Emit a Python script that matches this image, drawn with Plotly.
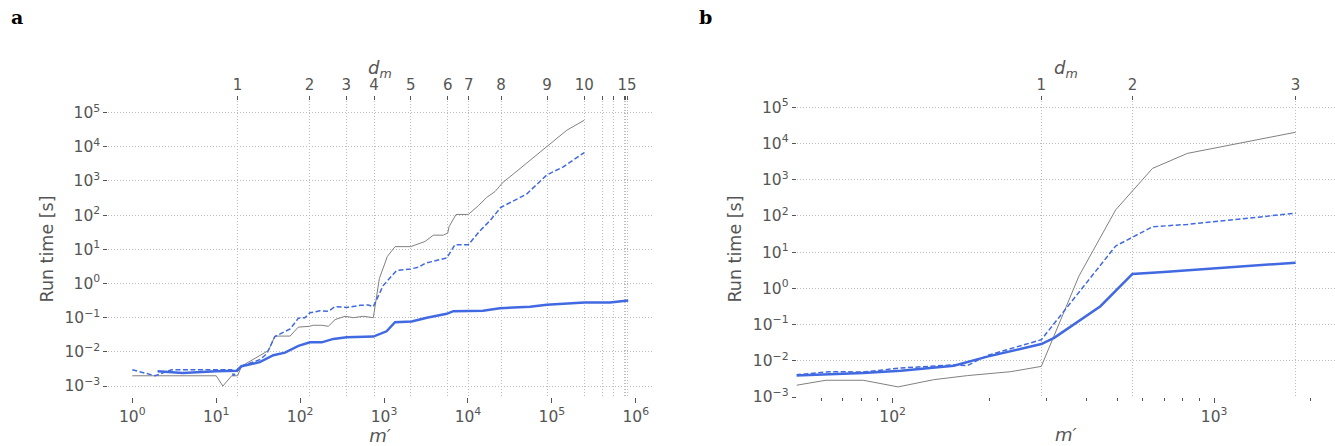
import numpy as np
import plotly.graph_objects as go

# ---------------- Panel a data ----------------
a_gray_x = [1, 10, 12, 15.3, 18, 20, 42, 50, 76, 95, 129, 144, 181, 217, 261, 343, 430, 567, 745,
            880, 1096, 1352, 2080, 2570, 3083, 3873, 5093, 5741, 5957, 7211, 10116, 13300, 16750,
            21040, 26000, 34670, 87100, 151000, 243800]
a_gray_y = [0.002, 0.002, 0.001, 0.002, 0.002, 0.0038, 0.011, 0.029, 0.029, 0.053, 0.056, 0.06,
            0.06, 0.056, 0.088, 0.11, 0.1, 0.11, 0.1, 1.4, 6.2, 12, 12, 14.4, 17, 26, 26, 30, 46,
            105, 105, 189, 331, 490, 900, 1590, 10000, 30600, 60000]

a_dash_x = [1, 1.87, 2.95, 15.3, 16, 20, 33, 40, 50, 76, 95.5, 114, 131, 173, 217, 261, 359, 518,
            650, 745, 977, 1413, 2080, 2570, 3083, 5585, 7015, 10116, 13930, 18320, 24600, 50100,
            87100, 137000, 243800]
a_dash_y = [0.003, 0.002, 0.003, 0.003, 0.002, 0.0038, 0.0059, 0.0088, 0.028, 0.047, 0.097, 0.1,
            0.139, 0.16, 0.155, 0.21, 0.2, 0.23, 0.235, 0.21, 0.87, 2.4, 2.67, 3.0, 3.9, 5.6, 13.7,
            13.7, 35, 69, 168, 414, 1500, 2600, 6800]

a_solid_x = [2, 4, 10, 17.5, 20, 33, 48, 66, 95.5, 131, 181, 249, 359, 745, 1072, 1352, 2138, 3236,
             5585, 6700, 15140, 24000, 55000, 87100, 243800, 493000, 813000]
a_solid_y = [0.0027, 0.0024, 0.0027, 0.0028, 0.0038, 0.005, 0.008, 0.0095, 0.015, 0.019, 0.019,
             0.024, 0.027, 0.028, 0.04, 0.074, 0.077, 0.1, 0.13, 0.155, 0.16, 0.19, 0.21, 0.24,
             0.28, 0.28, 0.32]

a_dm_pos = [18, 129, 355, 760, 2080, 5740, 10200, 24800, 87700, 244000, 404000, 541000, 731000,
            760000, 787000]
a_dm_lab = ["1", "2", "3", "4", "5", "6", "7", "8", "9", "10", "", "", "", "", "15"]

a_xtick_exp = [0, 1, 2, 3, 4, 5, 6]
a_ytick_exp = [-3, -2, -1, 0, 1, 2, 3, 4, 5]

# ---------------- Panel b data ----------------
b_gray_x = [50, 62, 81, 104, 134, 171, 233, 290, 380, 494, 643, 826, 1793]
b_gray_y = [0.0021, 0.0029, 0.0029, 0.0019, 0.003, 0.0039, 0.005, 0.007, 2.2, 146, 2040, 5300, 20300]

b_dash_x = [50, 64, 81, 106, 155, 171, 197, 290, 494, 643, 826, 1793]
b_dash_y = [0.0041, 0.005, 0.0049, 0.0063, 0.0077, 0.0074, 0.014, 0.038, 14.7, 50, 58, 118]

b_solid_x = [50, 81, 106, 155, 197, 290, 318, 443, 557, 698, 1793]
b_solid_y = [0.0039, 0.0046, 0.0053, 0.0073, 0.013, 0.029, 0.043, 0.32, 2.5, 2.8, 5.1]

b_dm_pos = [290, 557, 1793]
b_dm_lab = ["1", "2", "3"]

b_xtick_exp = [2, 3]
b_ytick_exp = [-3, -2, -1, 0, 1, 2, 3, 4, 5]

GRAY = "#808080"
BLUE = "#4169E1"
TXT = "#555555"
GRID = "#bdbdbd"
FONT = "DejaVu Sans"
W, H = 1335, 446


def pow_labels(exps):
    return [10.0 ** e for e in exps], ["10<sup>%s</sup>" % (str(e).replace("-", "\u2212")) for e in exps]


fig = go.Figure()


def add_panel(xr, yr, gx, gy, dx, dy, sx, sy):
    fig.add_trace(go.Scatter(x=gx, y=gy, mode="lines", line=dict(color=GRAY, width=1),
                             xaxis=xr, yaxis=yr, showlegend=False, hoverinfo="skip"))
    fig.add_trace(go.Scatter(x=dx, y=dy, mode="lines", line=dict(color=BLUE, width=1.5, dash="5px,2.5px"),
                             xaxis=xr, yaxis=yr, showlegend=False, hoverinfo="skip"))
    fig.add_trace(go.Scatter(x=sx, y=sy, mode="lines", line=dict(color=BLUE, width=2.5),
                             xaxis=xr, yaxis=yr, showlegend=False, hoverinfo="skip"))


add_panel("x", "y", a_gray_x, a_gray_y, a_dash_x, a_dash_y, a_solid_x, a_solid_y)
add_panel("x2", "y2", b_gray_x, b_gray_y, b_dash_x, b_dash_y, b_solid_x, b_solid_y)

# invisible traces to activate top axes
fig.add_trace(go.Scatter(x=a_dm_pos, y=[1] * len(a_dm_pos), xaxis="x3", yaxis="y", mode="markers",
                         marker=dict(opacity=0), showlegend=False, hoverinfo="skip"))
fig.add_trace(go.Scatter(x=b_dm_pos, y=[1] * len(b_dm_pos), xaxis="x4", yaxis="y2", mode="markers",
                         marker=dict(opacity=0), showlegend=False, hoverinfo="skip"))

tickfont = dict(family=FONT, size=15.5, color=TXT)
toptickfont = dict(family=FONT, size=15, color=TXT)
ydom = [(H - 397) / H, (H - 101) / H]

common_x = dict(type="log", showgrid=False, zeroline=False, showline=False, ticks="outside",
                ticklen=5, tickcolor=TXT, tickwidth=1, tickmode="array", automargin=False,
                tickfont=tickfont)
common_y = dict(type="log", showgrid=True, gridcolor=GRID, griddash="1px,2px", gridwidth=1,
                zeroline=False, showline=False, ticks="outside", ticklen=4, tickcolor=TXT,
                tickmode="array", automargin=False, tickfont=tickfont)
top_x = dict(type="log", side="top", showgrid=True, gridcolor=GRID, griddash="1px,2px", gridwidth=1,
             zeroline=False, showline=False, ticks="outside", ticklen=4, tickcolor=TXT,
             tickfont=toptickfont, tickmode="array", automargin=False)

a_xr = [-0.286, 6.19]
b_xr = [np.log10(50.3), 3.376]
a_dom = [108.3 / W, 651.7 / W]
b_dom = [796.7 / W, 1.0]

axv, axt = pow_labels(a_xtick_exp)
ayv, ayt = pow_labels(a_ytick_exp)
bxv, bxt = pow_labels(b_xtick_exp)
byv, byt = pow_labels(b_ytick_exp)

xt_font = dict(family=FONT, size=18, color=TXT)
yt_font = dict(family=FONT, size=17.5, color=TXT)

fig.update_layout(
    width=W, height=H, margin=dict(l=0, r=0, t=0, b=0),
    paper_bgcolor="white", plot_bgcolor="white",
    xaxis=dict(**common_x, domain=a_dom, anchor="y", range=a_xr,
               tickvals=axv, ticktext=axt,
               title=dict(text="<i>m′</i>", font=xt_font, standoff=3)),
    yaxis=dict(**common_y, domain=ydom, anchor="x", range=[-3.32, 5.34],
               tickvals=ayv, ticktext=ayt,
               title=dict(text="Run time [s]", font=yt_font, standoff=6)),
    xaxis3=dict(**top_x, overlaying="x", anchor="y", range=a_xr, tickvals=a_dm_pos, ticktext=a_dm_lab),
    xaxis2=dict(**common_x, domain=b_dom, anchor="y2", range=b_xr,
                tickvals=bxv, ticktext=bxt,
                minor=dict(ticks="outside", ticklen=3, tickcolor=TXT, dtick="D1", showgrid=False),
                title=dict(text="<i>m′</i>", font=xt_font, standoff=3)),
    yaxis2=dict(**common_y, domain=ydom, anchor="x2", range=[-3, 5.17],
                tickvals=byv, ticktext=byt,
                title=dict(text="Run time [s]", font=yt_font, standoff=6)),
    xaxis4=dict(**top_x, overlaying="x2", anchor="y2", range=b_xr, tickvals=b_dm_pos, ticktext=b_dm_lab),
    annotations=[
        dict(text="<b>a</b>", x=9 / W, y=(H - 17.5) / H, xref="paper", yref="paper", showarrow=False,
             font=dict(family="DejaVu Serif", size=19, color="black"), xanchor="left", yanchor="middle"),
        dict(text="<b>b</b>", x=697 / W, y=(H - 17.5) / H, xref="paper", yref="paper", showarrow=False,
             font=dict(family="DejaVu Serif", size=19, color="black"), xanchor="left", yanchor="middle"),
        dict(text="<i>d<sub>m</sub></i>", x=sum(a_dom) / 2, y=(H - 69) / H, xref="paper", yref="paper",
             showarrow=False, font=xt_font, xanchor="center", yanchor="middle"),
        dict(text="<i>d<sub>m</sub></i>", x=sum(b_dom) / 2, y=(H - 69) / H, xref="paper", yref="paper",
             showarrow=False, font=xt_font, xanchor="center", yanchor="middle"),
    ],
)

fig.write_html("out.html", config={"displayModeBar": False},
               post_script="document.body.style.margin='0';document.body.style.padding='0';"
                           "document.body.style.overflow='hidden';")
